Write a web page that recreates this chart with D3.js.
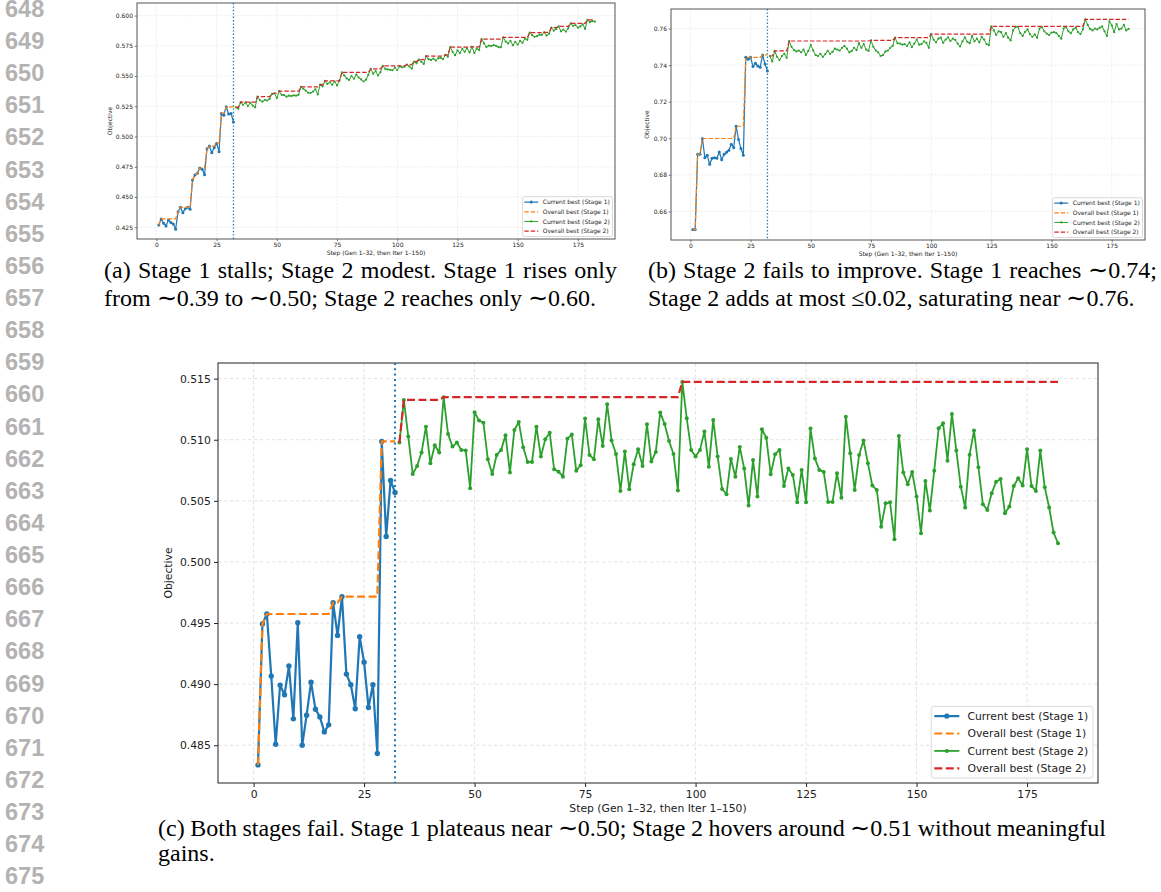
<!DOCTYPE html>
<html>
<head>
<meta charset="utf-8" />
<title>Objective traces, Stage 1 / Stage 2</title>
<script src="https://cdn.jsdelivr.net/npm/d3@7"></script>
<style>
  body { margin: 0; background: #fff; }
</style>
</head>
<body>
<script>

// ---- data ----
var xTicks = [0, 25, 50, 75, 100, 125, 150, 175];
var aYTicks = [0.425, 0.45, 0.475, 0.5, 0.525, 0.55, 0.575, 0.6];
var bYTicks = [0.66, 0.68, 0.70, 0.72, 0.74, 0.76];
var cYTicks = [0.485, 0.49, 0.495, 0.5, 0.505, 0.51, 0.515];

var legendLabels = ["Current best (Stage 1)", "Overall best (Stage 1)",
                    "Current best (Stage 2)", "Overall best (Stage 2)"];
var xLabel = "Step (Gen 1\u201332, then Iter 1\u2013150)";
var yLabel = "Objective";

// panel (a): gens 1-32, then iters 33-182
var aStage1 = [0.4269, 0.4319, 0.4283, 0.4261, 0.4311, 0.4289, 0.4278, 0.4234, 0.4379, 0.4415,
               0.4371, 0.4404, 0.4415, 0.4399, 0.4641, 0.4682, 0.4696, 0.4740, 0.4729, 0.4685,
               0.4900, 0.4921, 0.4866, 0.4908, 0.4943, 0.4875, 0.5191, 0.5177, 0.5246, 0.5186,
               0.5191, 0.5120];
var aStage2 = [0.5241, 0.5230, 0.5285, 0.5262, 0.5280, 0.5252, 0.5278, 0.5256, 0.5242, 0.5330,
               0.5300, 0.5288, 0.5302, 0.5298, 0.5312, 0.5352, 0.5358, 0.5318, 0.5375, 0.5345,
               0.5342, 0.5330, 0.5338, 0.5335, 0.5340, 0.5338, 0.5345, 0.5410, 0.5395, 0.5380,
               0.5362, 0.5360, 0.5372, 0.5390, 0.5348, 0.5430, 0.5415, 0.5460, 0.5435, 0.5448,
               0.5428, 0.5455, 0.5422, 0.5462, 0.5530, 0.5505, 0.5480, 0.5468, 0.5500, 0.5478,
               0.5512, 0.5488, 0.5472, 0.5455, 0.5470, 0.5510, 0.5560, 0.5520, 0.5540, 0.5505,
               0.5532, 0.5585, 0.5560, 0.5555, 0.5552, 0.5548, 0.5570, 0.5550, 0.5580, 0.5572,
               0.5578, 0.5595, 0.5580, 0.5562, 0.5620, 0.5605, 0.5635, 0.5618, 0.5600, 0.5665,
               0.5640, 0.5632, 0.5645, 0.5628, 0.5648, 0.5650, 0.5640, 0.5675, 0.5660, 0.5740,
               0.5700, 0.5672, 0.5712, 0.5690, 0.5725, 0.5700, 0.5730, 0.5695, 0.5742, 0.5690,
               0.5728, 0.5715, 0.5805, 0.5770, 0.5740, 0.5752, 0.5748, 0.5755, 0.5750, 0.5740,
               0.5738, 0.5820, 0.5785, 0.5770, 0.5790, 0.5755, 0.5782, 0.5760, 0.5790, 0.5775,
               0.5810, 0.5800, 0.5860, 0.5838, 0.5825, 0.5830, 0.5842, 0.5840, 0.5862, 0.5835,
               0.5850, 0.5900, 0.5875, 0.5890, 0.5910, 0.5870, 0.5885, 0.5868, 0.5895, 0.5935,
               0.5915, 0.5922, 0.5900, 0.5910, 0.5928, 0.5890, 0.5965, 0.5945, 0.5955, 0.5950];

// panel (b)
var bStage1 = [0.6501, 0.6501, 0.6913, 0.6913, 0.6999, 0.6894, 0.6907, 0.6858, 0.6891, 0.6894,
               0.6891, 0.6925, 0.6883, 0.6913, 0.6924, 0.6935, 0.6967, 0.6949, 0.7066, 0.6993,
               0.6944, 0.6907, 0.7443, 0.7432, 0.7443, 0.7392, 0.7410, 0.7395, 0.7388, 0.7456,
               0.7406, 0.7368];
var bStage2 = [0.7450, 0.7420, 0.7478, 0.7445, 0.7428, 0.7450, 0.7462, 0.7440, 0.7532, 0.7500,
               0.7482, 0.7475, 0.7480, 0.7470, 0.7485, 0.7455, 0.7478, 0.7510, 0.7480, 0.7455,
               0.7450, 0.7462, 0.7445, 0.7460, 0.7478, 0.7462, 0.7472, 0.7490, 0.7485, 0.7480,
               0.7495, 0.7505, 0.7490, 0.7470, 0.7478, 0.7495, 0.7482, 0.7520, 0.7495, 0.7515,
               0.7485, 0.7478, 0.7535, 0.7500, 0.7480, 0.7470, 0.7450, 0.7455, 0.7475, 0.7480,
               0.7495, 0.7505, 0.7550, 0.7520, 0.7518, 0.7512, 0.7515, 0.7505, 0.7525, 0.7498,
               0.7518, 0.7540, 0.7512, 0.7515, 0.7530, 0.7522, 0.7495, 0.7570, 0.7540, 0.7525,
               0.7545, 0.7550, 0.7522, 0.7540, 0.7552, 0.7532, 0.7545, 0.7538, 0.7518, 0.7502,
               0.7530, 0.7552, 0.7528, 0.7520, 0.7560, 0.7530, 0.7545, 0.7525, 0.7555, 0.7540,
               0.7515, 0.7510, 0.7612, 0.7590, 0.7565, 0.7585, 0.7580, 0.7555, 0.7575, 0.7550,
               0.7535, 0.7590, 0.7608, 0.7610, 0.7575, 0.7560, 0.7582, 0.7595, 0.7570, 0.7555,
               0.7568, 0.7550, 0.7600, 0.7608, 0.7585, 0.7572, 0.7565, 0.7578, 0.7580, 0.7575,
               0.7560, 0.7545, 0.7600, 0.7610, 0.7585, 0.7575, 0.7595, 0.7605, 0.7580, 0.7570,
               0.7595, 0.7650, 0.7620, 0.7598, 0.7590, 0.7600, 0.7595, 0.7605, 0.7612, 0.7585,
               0.7560, 0.7640, 0.7618, 0.7580, 0.7625, 0.7595, 0.7600, 0.7620, 0.7590, 0.7598];

// panel (c)
var cStage1 = [0.48339, 0.49492, 0.49574, 0.49066, 0.48508, 0.48992, 0.48913, 0.49148, 0.48716, 0.49503,
               0.48500, 0.48746, 0.49016, 0.48795, 0.48732, 0.48609, 0.48667, 0.49667, 0.49399, 0.49716,
               0.49082, 0.48995, 0.48798, 0.49388, 0.49180, 0.48809, 0.48995, 0.48432, 0.50986, 0.50208,
               0.50667, 0.50568];
var cStage2 = [0.50977, 0.51326, 0.51026, 0.50720, 0.50786, 0.50895, 0.51107, 0.50807, 0.50955, 0.50895,
               0.51348, 0.51047, 0.50944, 0.50977, 0.50917, 0.50911, 0.50603, 0.51225, 0.51157, 0.51140,
               0.50840, 0.50720, 0.50876, 0.50917, 0.51037, 0.50731, 0.51080, 0.51146, 0.50938, 0.50818,
               0.50818, 0.51107, 0.50862, 0.51004, 0.51058, 0.50758, 0.50739, 0.50698, 0.51009, 0.51042,
               0.50747, 0.50791, 0.51173, 0.50876, 0.50840, 0.51167, 0.50949, 0.51290, 0.50993, 0.50884,
               0.50581, 0.50903, 0.50595, 0.50799, 0.50922, 0.50786, 0.51127, 0.50821, 0.50900, 0.51222,
               0.51129, 0.50990, 0.50884, 0.50584, 0.51473, 0.51176, 0.50917, 0.50862, 0.50917, 0.51067,
               0.50780, 0.51162, 0.50862, 0.50597, 0.50554, 0.50843, 0.50698, 0.50941, 0.50764, 0.50461,
               0.50835, 0.50535, 0.51086, 0.51017, 0.50717, 0.50881, 0.50917, 0.50622, 0.50764, 0.50712,
               0.50488, 0.50753, 0.50488, 0.51091, 0.50846, 0.50753, 0.50737, 0.50491, 0.50491, 0.50726,
               0.50526, 0.51189, 0.50889, 0.50589, 0.50876, 0.50993, 0.50807, 0.50625, 0.50589, 0.50289,
               0.50480, 0.50488, 0.50185, 0.51031, 0.50731, 0.50636, 0.50737, 0.50535, 0.50235, 0.50663,
               0.50420, 0.50747, 0.51094, 0.51135, 0.50829, 0.51211, 0.50911, 0.50616, 0.50445, 0.50878,
               0.51075, 0.50775, 0.50472, 0.50426, 0.50562, 0.50657, 0.50679, 0.50398, 0.50453, 0.50622,
               0.50685, 0.50625, 0.50922, 0.50622, 0.50581, 0.50911, 0.50611, 0.50445, 0.50240, 0.50153];

var stage1End = 32;

var captions = {
  a: ["(a) Stage 1 stalls; Stage 2 modest.  Stage 1 rises only",
      "from \u223C0.39 to \u223C0.50; Stage 2 reaches only \u223C0.60."],
  b: ["(b) Stage 2 fails to improve.  Stage 1 reaches \u223C0.74;",
      "Stage 2 adds at most \u22640.02, saturating near \u223C0.76."],
  c: ["(c) Both stages fail. Stage 1 plateaus near \u223C0.50; Stage 2 hovers around \u223C0.51 without meaningful",
      "gains."]
};

var lineNumbers = d3.range(648, 676);

// ---- drawing ----
var W = 1161, H = 892;
var svg = d3.select("body").append("svg")
    .attr("width", W).attr("height", H);

var colS1 = "#1f77b4", colB1 = "#ff7f0e", colS2 = "#2ca02c", colB2 = "#d62728";
var fontFam = "'DejaVu Sans', sans-serif";

// overall best so far = running max of the current-best trace
function runningMax(arr) {
    var out = [], m = -Infinity;
    for (var i = 0; i < arr.length; i++) { m = Math.max(m, arr[i]); out.push(m); }
    return out;
}

function drawPanel(p, s1, s2, yTicks, fmt) {
    var k = p.font / 10.8;   // everything scaled from the big panel
    var g = svg.append("g");

    var x = d3.scaleLinear().domain(p.xDomain).range([p.left, p.right]);
    var y = d3.scaleLinear().domain(p.yDomain).range([p.bottom, p.top]);

    // grid
    var grid = g.append("g").attr("stroke", "#e3e3e3")
        .attr("stroke-width", 0.8 * k + 0.2)
        .attr("stroke-dasharray", (3.5 * k) + "," + (2.5 * k));
    grid.selectAll("line.gx").data(xTicks).join("line").attr("class", "gx")
        .attr("x1", function (d) { return x(d); }).attr("x2", function (d) { return x(d); })
        .attr("y1", p.top).attr("y2", p.bottom);
    grid.selectAll("line.gy").data(yTicks).join("line").attr("class", "gy")
        .attr("x1", p.left).attr("x2", p.right)
        .attr("y1", function (d) { return y(d); }).attr("y2", function (d) { return y(d); });

    // axes
    var xAxis = d3.axisBottom(x).tickValues(xTicks).tickSize(4 * k).tickPadding(3.2 * k);
    var yAxis = d3.axisLeft(y).tickValues(yTicks).tickFormat(d3.format(fmt))
        .tickSize(4 * k).tickPadding(3.2 * k);

    var gx = g.append("g").attr("transform", "translate(0," + p.bottom + ")").call(xAxis);
    var gy = g.append("g").attr("transform", "translate(" + p.left + ",0)").call(yAxis);
    [gx, gy].forEach(function (ax) {
        ax.attr("font-size", p.font).attr("font-family", fontFam);
        ax.select(".domain").remove();
        ax.selectAll(".tick line").attr("stroke", "#222").attr("stroke-width", 0.9 * k + 0.1);
        ax.selectAll(".tick text").attr("fill", "#222");
    });

    // frame
    g.append("rect")
        .attr("x", p.left).attr("y", p.top)
        .attr("width", p.right - p.left).attr("height", p.bottom - p.top)
        .attr("fill", "none").attr("stroke", p.frame).attr("stroke-width", 1);

    // axis labels
    g.append("text")
        .attr("x", (p.left + p.right) / 2).attr("y", p.xLabelY)
        .attr("text-anchor", "middle").attr("font-family", fontFam)
        .attr("font-size", p.font).attr("fill", "#222")
        .text(xLabel);
    g.append("text")
        .attr("transform", "translate(" + p.yLabelX + "," + ((p.top + p.bottom) / 2) + ") rotate(-90)")
        .attr("text-anchor", "middle").attr("font-family", fontFam)
        .attr("font-size", p.font).attr("fill", "#222")
        .text(yLabel);

    // stage boundary
    g.append("line")
        .attr("x1", x(stage1End)).attr("x2", x(stage1End))
        .attr("y1", p.top).attr("y2", p.bottom)
        .attr("stroke", colS1).attr("stroke-width", p.vlW)
        .attr("stroke-dasharray", p.vlDash);

    var d1 = s1.map(function (v, i) { return [i + 1, v]; });
    var d2 = s2.map(function (v, i) { return [stage1End + 1 + i, v]; });
    var best1 = runningMax(s1).map(function (v, i) { return [i + 1, v]; });
    var best2 = runningMax(s2).map(function (v, i) { return [stage1End + 1 + i, v]; });

    var line = d3.line().x(function (d) { return x(d[0]); }).y(function (d) { return y(d[1]); });

    function current(data, col, lw, r) {
        g.append("path").datum(data).attr("d", line)
            .attr("fill", "none").attr("stroke", col).attr("stroke-width", lw)
            .attr("stroke-linejoin", "round");
        g.append("g").selectAll("circle").data(data).join("circle")
            .attr("cx", function (d) { return x(d[0]); })
            .attr("cy", function (d) { return y(d[1]); })
            .attr("r", r).attr("fill", col);
    }
    function overall(data, col, lw) {
        g.append("path").datum(data).attr("d", line)
            .attr("fill", "none").attr("stroke", col).attr("stroke-width", lw)
            .attr("stroke-dasharray", (8 * k) + "," + (3.5 * k));
    }

    current(d1, colS1, 2.2 * k, 2.7 * k);
    overall(best1, colB1, 2.2 * k);
    current(d2, colS2, 1.8 * k, 2.0 * k);
    overall(best2, colB2, 2.2 * k);

    // legend
    var f = p.font, rowH = 1.61 * f;
    var styles = [
        { col: colS1, lw: 2.2 * k, r: 2.7 * k, dash: null },
        { col: colB1, lw: 2.2 * k, r: 0, dash: (8 * k) + "," + (3.5 * k) },
        { col: colS2, lw: 1.8 * k, r: 2.0 * k, dash: null },
        { col: colB2, lw: 2.2 * k, r: 0, dash: (8 * k) + "," + (3.5 * k) }
    ];
    var lg = g.append("g");
    var box = lg.append("rect").attr("fill", "#fff").attr("fill-opacity", 0.85)
        .attr("stroke", "#d0d0d0").attr("stroke-width", 0.8).attr("rx", 0.3 * f);
    var items = lg.selectAll("g.item").data(legendLabels).join("g").attr("class", "item");
    var texts = items.append("text")
        .attr("font-family", fontFam).attr("font-size", f).attr("fill", "#222")
        .attr("dy", "0.35em")
        .text(function (d) { return d; });
    var tw = d3.max(texts.nodes(), function (n) { return n.getComputedTextLength(); });
    var bw = 3.35 * f + tw + 0.45 * f;
    var bh = 0.9 * f * 2 + rowH * 3;
    var bx = p.right - p.legInset - bw, by = p.bottom - p.legInset - bh;
    box.attr("x", bx).attr("y", by).attr("width", bw).attr("height", bh);
    items.each(function (d, i) {
        var it = d3.select(this), cy = by + 0.9 * f + i * rowH, st = styles[i];
        it.select("text").attr("x", bx + 3.35 * f).attr("y", cy);
        var ln = it.append("line")
            .attr("x1", bx + 0.28 * f).attr("x2", bx + 2.6 * f)
            .attr("y1", cy).attr("y2", cy)
            .attr("stroke", st.col).attr("stroke-width", st.lw);
        if (st.dash) ln.attr("stroke-dasharray", st.dash);
        if (st.r) it.append("circle").attr("cx", bx + 1.44 * f).attr("cy", cy)
            .attr("r", st.r).attr("fill", st.col);
    });
}

drawPanel({ left: 137, right: 615, top: 3, bottom: 239,
            xDomain: [-8.05, 190.4], yDomain: [0.4153, 0.6104],
            font: 6, frame: "#555", xLabelY: 255, yLabelX: 112, legInset: 2.5,
            vlW: 1.3, vlDash: "1.4,2" },
          aStage1, aStage2, aYTicks, ".3f");

drawPanel({ left: 671, right: 1145, top: 9, bottom: 240,
            xDomain: [-8.05, 188.8], yDomain: [0.6444, 0.7707],
            font: 6, frame: "#555", xLabelY: 255.5, yLabelX: 649, legInset: 2.5,
            vlW: 1.3, vlDash: "1.4,2" },
          bStage1, bStage2, bYTicks, ".2f");

drawPanel({ left: 218, right: 1098, top: 363, bottom: 783,
            xDomain: [-8.05, 191.05], yDomain: [0.48191, 0.51628],
            font: 10.8, frame: "#222", xLabelY: 812, yLabelX: 172, legInset: 5,
            vlW: 2, vlDash: "2,3.3" },
          cStage1, cStage2, cYTicks, ".3f");

// captions; a full first line is justified by spreading the words
var capFont = "'Liberation Serif', 'Times New Roman', serif";
var capSize = 24;
function caption(lines, x0, y0, lead, width1) {
    lines.forEach(function (t, i) {
        var yy = y0 + i * lead;
        if (i === 0 && width1) {
            var words = t.split(/\s+/);
            var wg = svg.append("g");
            var nodes = words.map(function (w) {
                return wg.append("text").attr("y", yy)
                    .attr("font-family", capFont).attr("font-size", capSize).attr("fill", "#000")
                    .text(w);
            });
            var widths = nodes.map(function (n) { return n.node().getComputedTextLength(); });
            var gap = (width1 - d3.sum(widths)) / (words.length - 1);
            var cx = x0;
            nodes.forEach(function (n, j) { n.attr("x", cx); cx += widths[j] + gap; });
        } else {
            svg.append("text").attr("x", x0).attr("y", yy)
                .attr("font-family", capFont).attr("font-size", capSize).attr("fill", "#000")
                .text(t);
        }
    });
}
caption(captions.a, 104, 277.5, 28.5, 513);
caption(captions.b, 648, 277.5, 28.5, 509);
caption(captions.c, 158, 835.5, 25.5, 948);

// margin line numbers
svg.append("g").selectAll("text").data(lineNumbers).join("text")
    .attr("x", 5).attr("y", function (d, i) { return 8.6 + i * 32.12 + 8.4; })
    .attr("font-family", "'Liberation Sans', Arial, sans-serif")
    .attr("font-weight", "bold").attr("font-size", 23.5).attr("fill", "#b3b3b3")
    .text(function (d) { return d; });

</script>
</body>
</html>
